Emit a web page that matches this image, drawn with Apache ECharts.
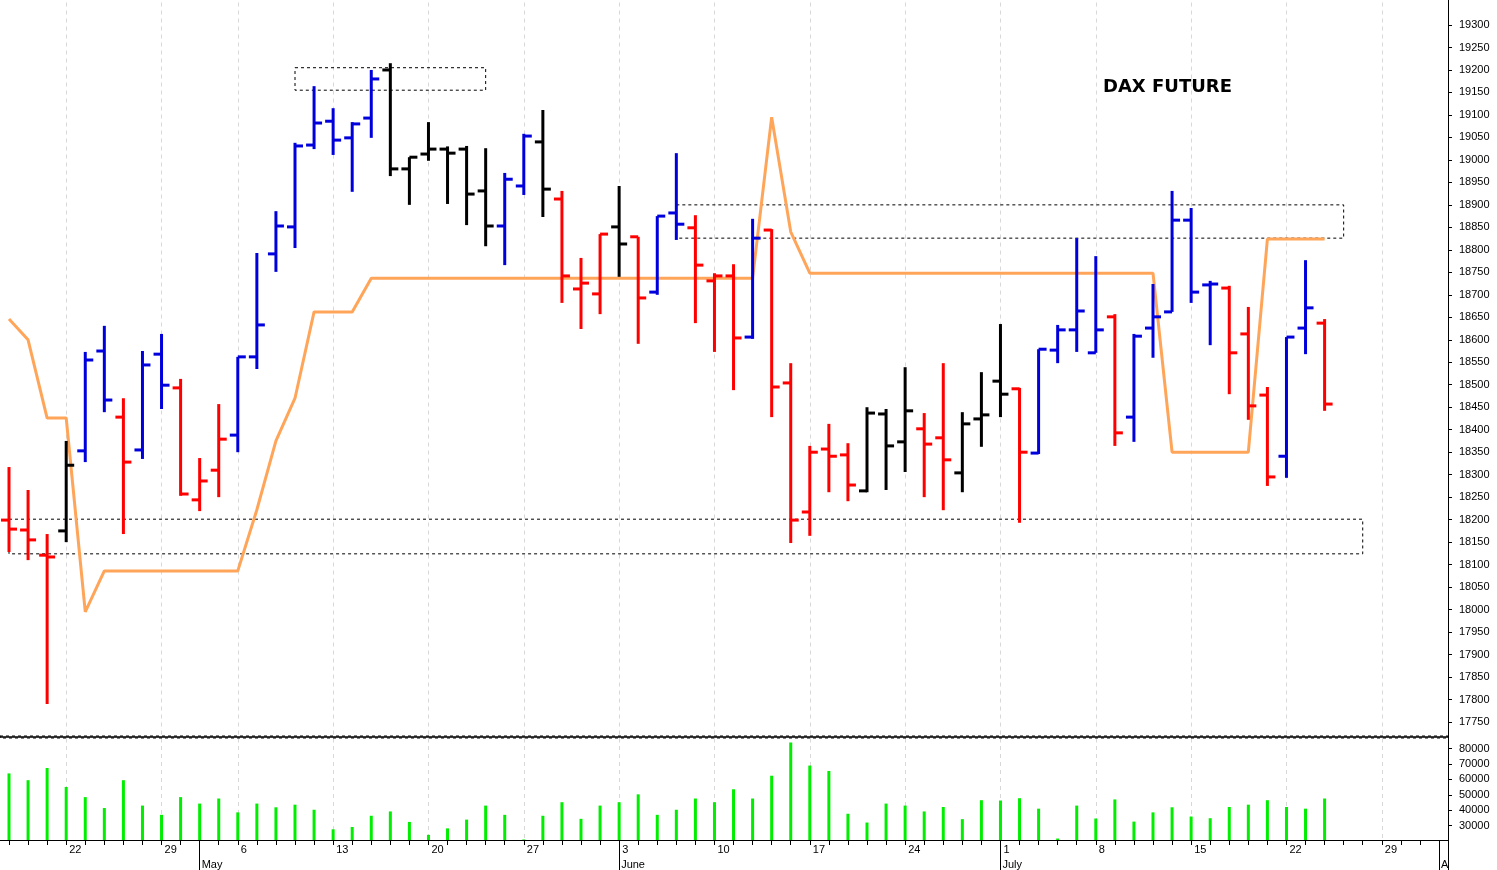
<!DOCTYPE html>
<html><head><meta charset="utf-8">
<script src="https://cdn.jsdelivr.net/npm/echarts@6/dist/echarts.min.js"></script>
<style>html,body{margin:0;padding:0;background:#fff}#c{width:1497px;height:870px}</style>
</head><body><div id="c"></div>
<script>
const dates = ['04-17','04-18','04-19','04-22','04-23','04-24','04-25','04-26','04-29','04-30','05-02','05-03','05-06','05-07','05-08','05-09','05-10','05-13','05-14','05-15','05-16','05-17','05-20','05-21','05-22','05-23','05-24','05-27','05-28','05-29','05-30','05-31','06-03','06-04','06-05','06-06','06-07','06-10','06-11','06-12','06-13','06-14','06-17','06-18','06-19','06-20','06-21','06-24','06-25','06-26','06-27','06-28','07-01','07-02','07-03','07-04','07-05','07-08','07-09','07-10','07-11','07-12','07-15','07-16','07-17','07-18','07-19','07-22','07-23','07-24','07-25','07-26','07-29','07-30','07-31','08-01'];
const openP = [18199,18177,18121,18175,18353,18575,18428,18355,18568,18493,18244,18310,18388,18562,18791,18851,19033,19086,19049,19093,19200,18980,19013,19024,19024,18931,18853,18942,19040,18913,18713,18702,18851,18829,18706,18882,18849,18731,18742,18606,18844,18504,18217,18357,18344,18264,18435,18373,18402,18382,18304,18424,18508,18491,18348,18577,18622,18571,18651,18428,18626,18662,18866,18722,18715,18613,18477,18341,18626,18637];
const highP = [18317,18266,18168,18375,18573,18631,18470,18575,18613,18513,18337,18457,18562,18793,18886,19038,19164,19115,19084,19200,19215,19006,19084,19030,19031,19026,18971,19058,19111,18931,18782,18835,18942,18829,18875,19015,18877,18748,18768,18869,18846,18548,18364,18413,18370,18450,18446,18539,18437,18548,18439,18528,18635,18493,18579,18633,18826,18786,18657,18613,18724,18931,18893,18731,18720,18673,18495,18606,18777,18646];
const lowP = [18128,18110,17790,18150,18328,18439,18168,18335,18446,18253,18219,18250,18350,18535,18751,18804,19024,19011,18929,19049,18964,18900,18998,18902,18855,18808,18766,18922,18873,18682,18624,18657,18740,18591,18700,18822,18637,18573,18488,18602,18428,18148,18164,18261,18241,18261,18266,18306,18250,18221,18261,18362,18428,18193,18346,18548,18573,18571,18364,18373,18560,18662,18682,18588,18479,18422,18275,18293,18568,18442];
const closeP = [18179,18155,18117,18321,18555,18466,18328,18544,18499,18257,18286,18379,18562,18633,18853,19031,19082,19044,19080,19180,18980,19006,19024,19015,18924,18853,18957,19053,18935,18742,18726,18835,18813,18693,18875,18857,18766,18742,18604,18826,18495,18199,18350,18341,18277,18437,18364,18442,18368,18333,18413,18433,18479,18350,18579,18622,18664,18622,18393,18608,18651,18866,18706,18724,18571,18453,18295,18606,18671,18457];
const signal = ['d','d','d','n','u','u','d','u','u','d','d','d','u','u','u','u','u','u','u','u','n','n','n','n','n','n','u','u','n','d','d','d','n','d','u','u','d','d','d','u','d','d','d','d','d','n','n','n','d','d','n','n','n','d','u','u','u','u','d','u','u','u','u','u','d','d','d','u','u','d'];
const stopLine = [18646,18600,18426,18426,17995,18086,18086,18086,18086,18086,18086,18086,18086,18222,18375,18470,18662,18662,18662,18737,18737,18737,18737,18737,18737,18737,18737,18737,18737,18737,18737,18737,18737,18737,18737,18737,18737,18737,18737,18737,19095,18840,18748,18748,18748,18748,18748,18748,18748,18748,18748,18748,18748,18748,18748,18748,18748,18748,18748,18748,18748,18350,18350,18350,18350,18350,18824,18824,18824,18824];
const volume = [63900,59500,67400,55100,48500,41400,59500,43000,37000,48500,44300,47600,38600,44300,41900,43600,40300,27600,29100,36400,39200,32400,24000,28200,33900,43000,37000,21000,36400,45200,34400,43000,45200,50300,37000,40300,47600,45200,53600,47600,62400,84000,69000,65500,37700,32000,44300,43000,39200,42100,34200,46500,46300,47800,41000,21600,43000,34600,47000,32600,38600,41900,35900,34800,42100,43600,46500,42100,41000,47600];
const monthLabels = {'05-02':'May','06-03':'June','07-01':'July','08-01':'A'};

const sigColor = {d:'#ff0000', u:'#0000dd', n:'#000000'};
const isMonday = v => new Date('2024-' + v + 'T12:00:00').getDay() === 1;
const ohlc = openP.map((o,i)=>[i,o,highP[i],lowP[i],closeP[i]]);
const font = 'Liberation Sans';
const chart = echarts.init(document.getElementById('c'));
chart.setOption({
  animation:false, backgroundColor:'#fff',
  grid:[{left:9,right:58,top:2.5,height:742},{left:9,right:58,top:738,height:103}],
  xAxis:[
    {type:'category',gridIndex:0,data:dates,boundaryGap:false,axisLine:{show:false},axisTick:{show:false},axisLabel:{show:false},
     splitLine:{show:true,interval:(i,v)=>isMonday(v),lineStyle:{color:'#d8d8d8',type:[4,4],width:1}}},
    {type:'category',gridIndex:1,position:'bottom',data:dates,boundaryGap:false,axisLine:{show:false},
     axisTick:{show:true,interval:0,length:4,lineStyle:{color:'#000'}},
     axisLabel:{interval:(i,v)=>isMonday(v),formatter:v=>String(+v.slice(3)),align:'left',margin:3,padding:[0,0,0,3],fontFamily:font,fontSize:11,color:'#000'},
     splitLine:{show:true,interval:(i,v)=>isMonday(v),lineStyle:{color:'#d8d8d8',type:[4,4],width:1}}},
    {type:'category',gridIndex:1,position:'bottom',offset:0,data:dates,boundaryGap:false,axisLine:{show:false},
     axisTick:{show:true,interval:(i,v)=>!!monthLabels[v],length:30,lineStyle:{color:'#000'}},
     axisLabel:{interval:(i,v)=>!!monthLabels[v],formatter:v=>monthLabels[v]||'',align:'left',margin:18,padding:[0,0,0,2],fontFamily:font,fontSize:11,color:'#000'}}
  ],
  yAxis:[
    {type:'value',gridIndex:0,position:'right',offset:9,min:17700,max:19350,interval:50,
     axisLine:{show:true,lineStyle:{color:'#000'}},axisTick:{show:true,length:4,lineStyle:{color:'#000'}},
     axisLabel:{showMinLabel:false,showMaxLabel:false,margin:11,formatter:v=>String(v),fontFamily:font,fontSize:11,color:'#000'},splitLine:{show:false}},
    {type:'value',gridIndex:1,position:'right',offset:9,min:20000,max:86900,interval:10000,
     axisLine:{show:true,lineStyle:{color:'#000'}},axisTick:{show:true,length:4,lineStyle:{color:'#000'}},
     axisLabel:{showMinLabel:false,margin:11,formatter:v=>String(v),fontFamily:font,fontSize:11,color:'#000'},splitLine:{show:false}}
  ],
  series:[
    {type:'line',xAxisIndex:0,yAxisIndex:0,data:stopLine,symbol:'none',z:1,
     lineStyle:{color:'#ffa559',width:3},
     markArea:{silent:true,itemStyle:{color:'rgba(0,0,0,0)',borderColor:'#000',borderWidth:1,borderType:[3,3]},
      data:[[{xAxis:'05-09',yAxis:19205},{xAxis:'05-23',yAxis:19155}],
            [{xAxis:'06-06',yAxis:18900},{xAxis:'07-25',yAxis:18826}],
            [{xAxis:'04-17',yAxis:18201},{xAxis:'07-26',yAxis:18124}]]}},
    {type:'custom',xAxisIndex:0,yAxisIndex:0,data:ohlc,z:3,
     renderItem:(params,api)=>{
       const i=api.value(0);
       const o=api.coord([i,api.value(1)]),h=api.coord([i,api.value(2)]),l=api.coord([i,api.value(3)]),c=api.coord([i,api.value(4)]);
       const st={stroke:sigColor[signal[i]],lineWidth:3};
       return {type:'group',children:[
         {type:'line',shape:{x1:h[0],y1:h[1],x2:l[0],y2:l[1]},style:st},
         {type:'line',shape:{x1:o[0]-8,y1:o[1],x2:o[0],y2:o[1]},style:st},
         {type:'line',shape:{x1:c[0],y1:c[1],x2:c[0]+8,y2:c[1]},style:st}]};
     }},
    {type:'bar',xAxisIndex:1,yAxisIndex:1,data:volume,barWidth:3,itemStyle:{color:'#00ee00'}}
  ],
  graphic:[
    {type:'rect',shape:{x:0,y:736,width:1448,height:2},style:{fill:'#fff'},z:99},
    {type:'line',shape:{x1:0,y1:737,x2:1448,y2:737},style:{stroke:'#000',lineWidth:1.5},z:100},
    {type:'rect',shape:{x:0,y:840,width:1448,height:1},style:{fill:'#000'},z:100},
    {type:'rect',shape:{x:1448,y:0,width:1,height:870},style:{fill:'#000'},z:100},
    {type:'text',left:1103,top:78,style:{text:'DAX FUTURE',font:'bold 18px "DejaVu Sans"',fill:'#000'},z:100}
  ]
});
const ctr = chart.convertToPixel({xAxisIndex:0,yAxisIndex:0},['04-19',17810]);
chart.setOption({graphic:[{type:'ellipse',shape:{cx:ctr[0],cy:ctr[1],rx:38,ry:16},style:{fill:'none',stroke:'#000',lineWidth:1,lineDash:[3,3]},z:10}]});
</script></body></html>
